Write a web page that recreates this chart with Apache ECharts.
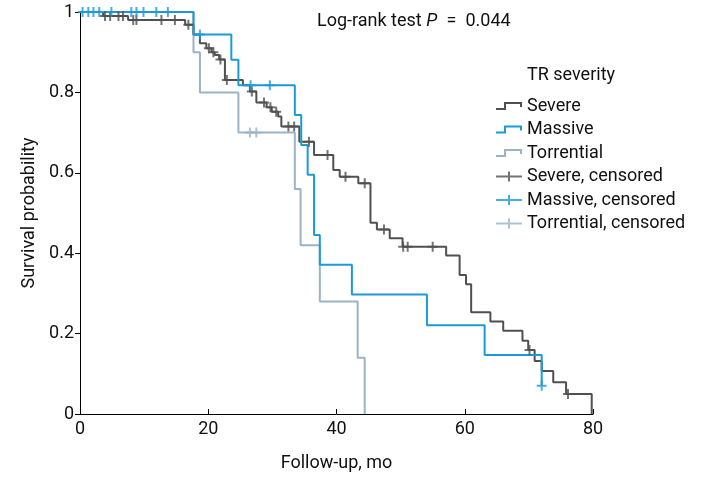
<!DOCTYPE html>
<html>
<head>
<meta charset="utf-8">
<script src="https://cdn.jsdelivr.net/npm/echarts@6/dist/echarts.min.js"></script>
<style>
  html, body { margin: 0; padding: 0; background: #fff; }
  #chart { width: 703px; height: 481px; }
</style>
</head>
<body>
<div id="chart"></div>
<script>
// Kaplan-Meier curves (time in months, survival after each step)
var severeTimes = [0, 3.6, 7.5, 16.4, 17.7, 18.7, 19.7, 20.5, 21.0, 21.7, 22.6, 25.4, 26.5, 27.5, 29.1, 29.9, 30.9, 31.4, 34.2, 36.5,
  39.5, 40.5, 43.4, 45.3, 46.3, 48.3, 50.3, 57.1, 59.2, 60.2, 61.0, 64.0, 66.0, 69.0, 69.9, 70.9, 72.0, 73.8, 75.8, 79.8];
var severeSurv = [1, 0.990, 0.980, 0.968, 0.944, 0.922, 0.910, 0.900, 0.893, 0.882, 0.831, 0.818, 0.802, 0.775, 0.763, 0.752, 0.740, 0.715, 0.677, 0.644,
  0.607, 0.590, 0.574, 0.476, 0.459, 0.437, 0.416, 0.394, 0.346, 0.323, 0.253, 0.230, 0.207, 0.182, 0.159, 0.132, 0.107, 0.079, 0.050, 0];
var severeCensor = [3.9, 4.7, 6.0, 6.7, 8.3, 8.8, 12.7, 14.8, 16.9, 20.1, 20.8, 21.9, 22.9, 26.8, 28.7, 29.7, 30.6, 32.5, 33.4,
  35.7, 38.6, 41.4, 44.4, 47.4, 50.4, 51.1, 55.0, 70.1, 76.1];

var massiveTimes = [0, 17.7, 23.6, 24.7, 33.5, 34.5, 35.5, 36.5, 37.4, 42.4, 54.1, 63.1, 72.0];
var massiveSurv = [1, 0.944, 0.881, 0.818, 0.744, 0.669, 0.595, 0.445, 0.371, 0.297, 0.221, 0.147, 0.070];
var massiveCensor = [0.4, 1.3, 2.1, 3.0, 4.9, 8.0, 8.8, 9.9, 11.9, 13.7, 18.7, 26.6, 29.6, 72.0];

var torrTimes = [0, 17.7, 18.7, 24.7, 33.5, 34.4, 37.4, 43.3, 44.4];
var torrSurv = [1, 0.90, 0.80, 0.70, 0.56, 0.42, 0.28, 0.14, 0];
var torrCensor = [26.5, 27.5];

var groupNames = ['Severe', 'Massive', 'Torrential'];
var censorNames = ['Severe, censored', 'Massive, censored', 'Torrential, censored'];
var colors = ['#505050', '#1b9ad6', '#9ab3c6'];

var FONT = "'Liberation Sans Narrow', 'Arial Narrow', Roboto, sans-serif";

function pairs(xs, ys) {
  return xs.map(function (x, i) { return [x, ys[i]]; });
}

// survival at a censoring time = value of the step curve at that time
function censorPoints(cens, xs, ys) {
  return cens.map(function (t) {
    var s = ys[0];
    for (var i = 0; i < xs.length; i++) {
      if (xs[i] <= t) s = ys[i];
    }
    return [t, s];
  });
}

var plusSymbol = 'path://M0,4 L10,4 L10,6 L0,6 Z M4,0 L6,0 L6,10 L4,10 Z';
var stepIcon = 'path://M0,8 L8,8 L8,2 L26,2 L26,7 L24,7 L24,4 L10,4 L10,10 L0,10 Z';
var plusIcon = 'path://M0,4 L26,4 L26,6 L0,6 Z M12,0 L14,0 L14,10 L12,10 Z';

var curves = [
  pairs(severeTimes, severeSurv),
  pairs(massiveTimes, massiveSurv),
  pairs(torrTimes, torrSurv)
];
var censors = [
  censorPoints(severeCensor, severeTimes, severeSurv),
  censorPoints(massiveCensor, massiveTimes, massiveSurv),
  censorPoints(torrCensor, torrTimes, torrSurv)
];

var zOrder = [2, 3, 1];
var series = [];
for (var i = 0; i < 3; i++) {
  series.push({
    name: groupNames[i],
    type: 'line',
    step: 'end',
    data: curves[i],
    showSymbol: false,
    z: zOrder[i],
    itemStyle: { color: colors[i] },
    lineStyle: { color: colors[i], width: 2 }
  });
}
for (var j = 0; j < 3; j++) {
  series.push({
    name: censorNames[j],
    type: 'scatter',
    data: censors[j],
    symbol: plusSymbol,
    symbolSize: 10,
    z: zOrder[j] + 3,
    itemStyle: { color: colors[j] }
  });
}

var legendData = [];
groupNames.forEach(function (n) { legendData.push({ name: n, icon: stepIcon }); });
censorNames.forEach(function (n) { legendData.push({ name: n, icon: plusIcon }); });

var chart = echarts.init(document.getElementById('chart'));
chart.setOption({
  animation: false,
  backgroundColor: '#fff',
  textStyle: { fontFamily: FONT },
  grid: { left: 80, right: 110, top: 12, bottom: 67 },
  xAxis: {
    type: 'value',
    min: 0,
    max: 80,
    interval: 20,
    name: 'Follow-up, mo',
    nameLocation: 'middle',
    nameGap: 40,
    nameTextStyle: { fontSize: 18, color: '#111', fontFamily: FONT },
    axisLine: { lineStyle: { color: '#000', width: 1 } },
    axisTick: { inside: true, length: 5, lineStyle: { color: '#000' } },
    axisLabel: { fontSize: 18, color: '#111', margin: 6, fontFamily: FONT },
    splitLine: { show: false }
  },
  yAxis: {
    type: 'value',
    min: 0,
    max: 1,
    interval: 0.2,
    name: 'Survival probability',
    nameLocation: 'middle',
    nameGap: 36,
    nameTextStyle: { fontSize: 18, color: '#111', fontFamily: FONT },
    axisLine: { show: true, lineStyle: { color: '#000', width: 1 } },
    axisTick: { show: true, inside: false, length: 5, lineStyle: { color: '#000' } },
    axisLabel: { fontSize: 18, color: '#111', margin: 6, fontFamily: FONT },
    splitLine: { show: false }
  },
  legend: {
    orient: 'vertical',
    left: 491,
    top: 92,
    itemWidth: 26,
    itemHeight: 10,
    itemGap: 5.5,
    data: legendData,
    textStyle: { fontSize: 18, color: '#111', fontFamily: FONT }
  },
  graphic: [
    {
      type: 'text',
      left: 527,
      top: 66,
      style: { text: 'TR severity', fontSize: 18, fill: '#111', fontFamily: FONT }
    },
    {
      type: 'text',
      left: 317,
      top: 12,
      style: {
        text: 'Log-rank test {p|P}\u2002=\u20020.044',
        fontSize: 18,
        fill: '#111',
        fontFamily: FONT,
        rich: { p: { fontStyle: 'italic', fontSize: 18, fontFamily: FONT } }
      }
    }
  ],
  series: series
});
</script>
</body>
</html>
